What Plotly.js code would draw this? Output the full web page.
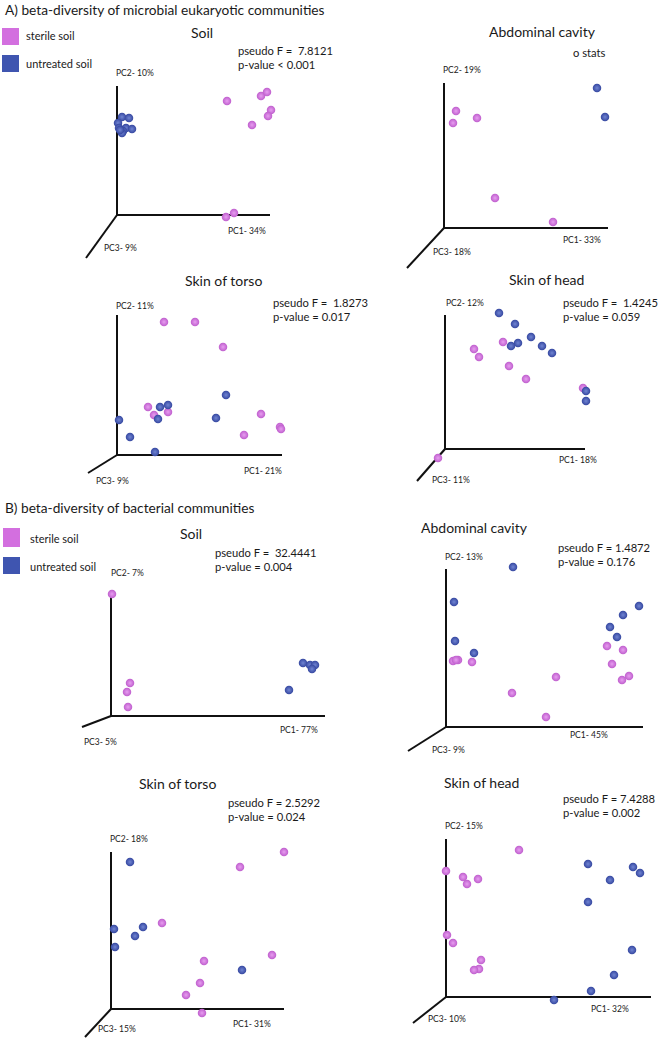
<!DOCTYPE html>
<html>
<head>
<meta charset="utf-8">
<script src="https://cdn.plot.ly/plotly-3.0.1.min.js"></script>
<style>
  html, body { margin: 0; padding: 0; background: #fff; }
  #chart { width: 660px; height: 1039px; }
</style>
</head>
<body>
<div id="chart"></div>
<script>
// PCoA coordinates (PC1 right, PC2 up, origin at the axis corner)
const groups = ['sterile soil', 'untreated soil'];

const aSoilSterile = [[110,114],[144,119],[150,123],[154,105],[151,99],[135,90],[109,-2],[117,2]];
const aSoilUntreated = [[5,98],[12,97],[1,92],[9,87],[2,87],[6,84],[15,86],[5,82],[3,85]];
const aAbdSterile = [[12,117],[9,105],[33,110],[51,30],[109,6]];
const aAbdUntreated = [[153,140],[161,111]];
const aTorsoSterile = [[47,133],[78,133],[106,108],[31,48],[37,40],[51,43],[144,41],[127,20],[163,28],[164,26]];
const aTorsoUntreated = [[109,60],[43,48],[51,50],[41,36],[99,37],[2,35],[13,18],[38,3]];
const aHeadSterile = [[58,107],[29,100],[34,92],[64,83],[81,70],[138,61],[-7,-9]];
const aHeadUntreated = [[54,136],[70,125],[86,112],[73,106],[66,103],[97,103],[107,96],[141,58],[141,48]];

const bSoilSterile = [[1,122],[19,33],[16,24],[17,9]];
const bSoilUntreated = [[192,53],[199,51],[204,51],[201,47],[178,26]];
const bAbdSterile = [[161,81],[177,77],[7,66],[12,67],[10,67],[26,65],[166,63],[110,50],[183,51],[176,47],[66,34],[100,10]];
const bAbdUntreated = [[67,160],[8,125],[193,121],[177,112],[164,100],[171,90],[9,86],[28,74]];
const bTorsoSterile = [[173,157],[129,142],[51,86],[161,54],[93,48],[89,26],[75,14],[91,-4]];
const bTorsoUntreated = [[19,147],[3,80],[32,82],[24,73],[4,62],[131,39]];
const bHeadSterile = [[73,147],[0,126],[17,120],[32,118],[21,113],[1,62],[7,54],[35,37],[33,28],[28,27]];
const bHeadUntreated = [[142,133],[187,130],[194,124],[164,117],[142,95],[186,47],[168,22],[145,6],[108,-3]];

const panelData = [
  [aSoilSterile, aSoilUntreated], [aAbdSterile, aAbdUntreated],
  [aTorsoSterile, aTorsoUntreated], [aHeadSterile, aHeadUntreated],
  [bSoilSterile, bSoilUntreated], [bAbdSterile, bAbdUntreated],
  [bTorsoSterile, bTorsoUntreated], [bHeadSterile, bHeadUntreated]
];

const sectionTitles = ['A) beta-diversity of microbial eukaryotic communities', 'B) beta-diversity of bacterial communities'];
const panelTitles = ['Soil', 'Abdominal cavity', 'Skin of torso', 'Skin of head', 'Soil', 'Abdominal cavity', 'Skin of torso', 'Skin of head'];
const pc1Labels = ['PC1- 34%', 'PC1- 33%', 'PC1- 21%', 'PC1- 18%', 'PC1- 77%', 'PC1- 45%', 'PC1- 31%', 'PC1- 32%'];
const pc2Labels = ['PC2- 10%', 'PC2- 19%', 'PC2- 11%', 'PC2- 12%', 'PC2- 7%', 'PC2- 13%', 'PC2- 18%', 'PC2- 15%'];
const pc3Labels = ['PC3- 9%', 'PC3- 18%', 'PC3- 9%', 'PC3- 11%', 'PC3- 5%', 'PC3- 9%', 'PC3- 15%', 'PC3- 10%'];
const statTexts = [
  ['pseudo F =  7.8121', 'p-value &lt; 0.001'], ['o stats'],
  ['pseudo F =  1.8273', 'p-value = 0.017'], ['pseudo F =  1.4245', 'p-value = 0.059'],
  ['pseudo F =  32.4441', 'p-value = 0.004'], ['pseudo F = 1.4872', 'p-value = 0.176'],
  ['pseudo F = 2.5292', 'p-value = 0.024'], ['pseudo F = 7.4288', 'p-value = 0.002']
];

// page geometry (pixels)
const W = 660, H = 1039;
const panels = [
  {box:[40,70,330,262],   o:[117,215], h:270, v:86,  d:[86,258],   t:[202,33],  s:[236,50],  p1:[247,231], p2:[135,73],  p3:[120,248]},
  {box:[360,70,655,272],  o:[444,228], h:608, v:83,  d:[407,268],  t:[542,32],  s:[571,52],  p1:[582,240], p2:[462,70],  p3:[452,252]},
  {box:[40,300,330,490],  o:[117,455], h:282, v:315, d:[88,473],   t:[223,280], s:[271,302], p1:[263,471], p2:[135,306], p3:[112,481]},
  {box:[360,295,655,490], o:[445,449], h:585, v:315, d:[417,481],  t:[546,279], s:[561,302], p1:[578,460], p2:[465,303], p3:[451,480]},
  {box:[40,575,330,750],  o:[111,716], h:325, v:595, d:[82,727],   t:[191,533], s:[213,552], p1:[299,730], p2:[127,573], p3:[100,742]},
  {box:[360,545,655,760], o:[446,727], h:643, v:569, d:[408,751],  t:[474,527], s:[556,547], p1:[589,735], p2:[464,557], p3:[448,750]},
  {box:[40,830,330,1039], o:[111,1009],h:284, v:852, d:[85,1037],  t:[177,783], s:[226,802], p1:[252,1024],p2:[129,839], p3:[117,1029]},
  {box:[360,815,655,1035],o:[446,997], h:651, v:839, d:[413,1023], t:[481,782], s:[561,798], p1:[610,1009],p2:[464,826], p3:[447,1019]}
];
const statLineGap = 14.5;
const sections = [
  {title:[3,10],  sq:[[2,28,19,45],[2,55,19,72]],     txt:[[24,36],[24,64]]},
  {title:[3,507], sq:[[3,528,20,547],[3,557,20,574]], txt:[[28,538],[28,566]]}
];

const legendColors = ['#d36fdf', '#3f55b0'];
const markerColors = ['#bf5ecd', '#3547a0'];
const markerLight = ['#e79df0', '#7084d2'];
const textColor = '#1a1a1a';

const px = x => x / W;
const py = y => 1 - y / H;

const traces = [], shapes = [], annotations = [];
const layout = {
  width: W, height: H,
  margin: {l: 0, r: 0, t: 0, b: 0},
  showlegend: false,
  paper_bgcolor: '#fff',
  plot_bgcolor: 'rgba(0,0,0,0)',
  font: {family: 'Lato, "Open Sans", sans-serif', color: textColor}
};

function note(text, x, y, size, opts) {
  annotations.push(Object.assign({
    text: text, x: px(x), y: py(y), xref: 'paper', yref: 'paper',
    xanchor: 'center', yanchor: 'middle', showarrow: false,
    font: {size: size, color: textColor}
  }, opts || {}));
}

panels.forEach((p, i) => {
  const n = i === 0 ? '' : String(i + 1);
  const xa = 'x' + n, ya = 'y' + n;
  const [L, T, R, B] = p.box, [ox, oy] = p.o;
  layout['xaxis' + n] = {domain: [px(L), px(R)], range: [L - ox, R - ox], visible: false, anchor: ya, fixedrange: true};
  layout['yaxis' + n] = {domain: [py(B), py(T)], range: [oy - B, oy - T], visible: false, anchor: xa, fixedrange: true};

  // the three PC axes
  const axLine = {type: 'line', xref: xa, yref: ya, x0: 0, y0: 0, line: {color: '#111', width: 2}, layer: 'below'};
  shapes.push(Object.assign({}, axLine, {x1: p.h - ox, y1: 0}));
  shapes.push(Object.assign({}, axLine, {x1: 0, y1: oy - p.v}));
  shapes.push(Object.assign({}, axLine, {x1: p.d[0] - ox, y1: oy - p.d[1]}));

  panelData[i].forEach((pts, g) => {
    traces.push({
      type: 'scatter', mode: 'markers', name: groups[g],
      x: pts.map(d => d[0]), y: pts.map(d => d[1]),
      xaxis: xa, yaxis: ya, hoverinfo: 'name',
      marker: {size: 8.5, color: markerColors[g], line: {width: 0},
               gradient: {type: 'radial', color: markerLight[g]}}
    });
  });

  note(panelTitles[i], p.t[0], p.t[1], 14);
  statTexts[i].forEach((line, k) => {
    note(line, p.s[0], p.s[1] + k * statLineGap, 11.2, {xanchor: 'left'});
  });
  note(pc1Labels[i], p.p1[0], p.p1[1], 8.5);
  note(pc2Labels[i], p.p2[0], p.p2[1], 8.5);
  note(pc3Labels[i], p.p3[0], p.p3[1], 8.5);
});

sections.forEach((s, k) => {
  note(sectionTitles[k], s.title[0], s.title[1], 13.7, {xanchor: 'left'});
  groups.forEach((g, j) => {
    const [x0, y0, x1, y1] = s.sq[j];
    shapes.push({type: 'rect', xref: 'paper', yref: 'paper', x0: px(x0), x1: px(x1), y0: py(y1), y1: py(y0),
                 fillcolor: legendColors[j], line: {width: 0}});
    note(g, s.txt[j][0], s.txt[j][1], 11, {xanchor: 'left'});
  });
});

layout.shapes = shapes;
layout.annotations = annotations;

Plotly.newPlot('chart', traces, layout, {displayModeBar: false, staticPlot: true});
</script>
</body>
</html>
